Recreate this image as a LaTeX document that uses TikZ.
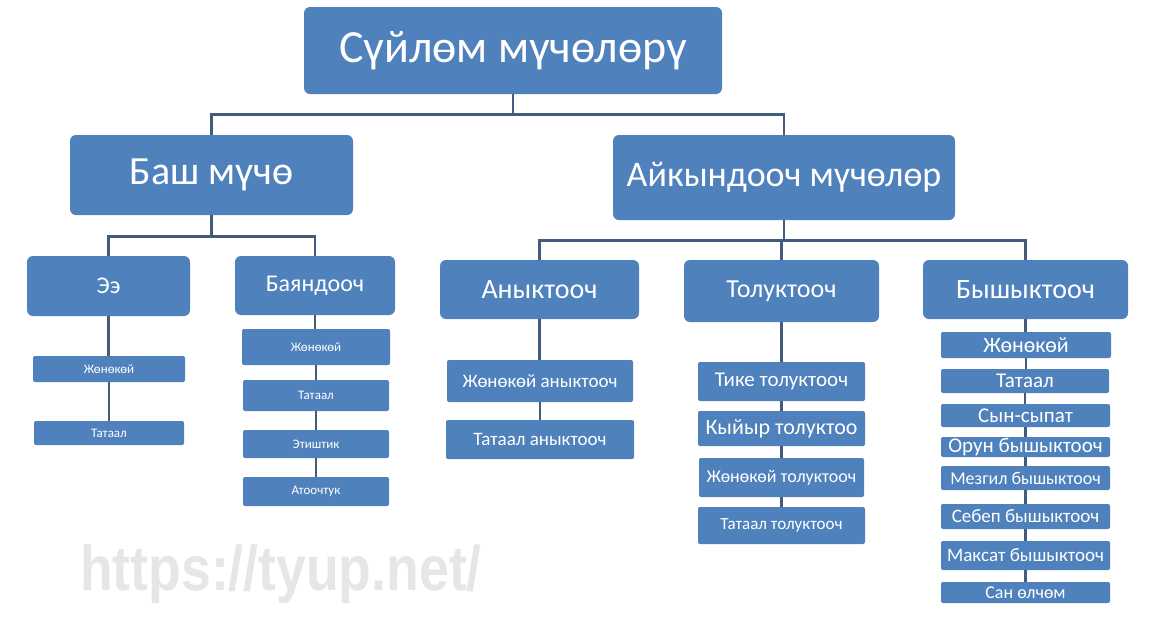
\documentclass[tikz,border=0pt]{standalone}
\usepackage{fontspec}
\setmainfont{Carlito}
\newfontfamily\wmfont{Liberation Sans}
\usepackage{tikz}
\usetikzlibrary{positioning}
\definecolor{big}{RGB}{79,129,189}
\definecolor{wire}{RGB}{66,92,124}
\definecolor{wmgray}{RGB}{230,230,230}

\begin{document}
\begin{tikzpicture}[x=1pt,y=-1pt,box/.style={fill=big,text=white,inner sep=0pt,rounded corners=#1},box/.default=2pt,link/.style={draw=wire,line width=2.6pt}]
  \fill[white] (0,0) rectangle (1154,625); \useasboundingbox (0,0) rectangle (1154,625);
  \node[font=\wmfont\bfseries\fontsize{63}{63}\selectfont,text=wmgray,anchor=base west,xscale=0.85,inner sep=0pt] (wm) at (80,590) {https://tyup.net/};
  % top levels
  \foreach \n/\xa/\ya/\xb/\yb/\s/\t in {top/304/7/722/94/46/Сүйлөм мүчөлөрү,bash/70/135/353/215/40/Баш мүчө,aik/613/135/955/220/36/Айкындооч мүчөлөр,ee/27/256/190/316/24/Ээ,bayan/235/256/395/315/24/Баяндооч,anyk/440/260/639/319/28/Аныктооч,toluk/684/260/879/322/26/Толуктооч,byshyk/923/260/1128/319/28/Бышыктооч}
    \node[box=6pt,minimum width=\xb-\xa,minimum height=\yb-\ya,font=\fontsize{\s}{\s}\selectfont] (\n) at ({(\xa+\xb)/2},{(\ya+\yb)/2}) {\t};
  % leaves
  \foreach \n/\xa/\ya/\xb/\yb/\s/\t in {ee1/33/356/185/382/13/Жөнөкөй,ee2/34/421/184/445/13/Татаал,bay1/242/329/390/365/13/Жөнөкөй,bay2/243/380/389/411/13/Татаал,bay3/243/430/389/458/13/Этиштик,bay4/243/477/389/506/13/Атоочтук,any1/447/360/633/402/19/Жөнөкөй аныктооч,any2/446/420/634/459/19/Татаал аныктооч,tol1/698/362/865/401/21/Тике толуктооч,tol2/698/411/865/446/22/Кыйыр толуктоо,tol3/699/458/864/497/18/Жөнөкөй толуктооч,tol4/698/507/865/544/17/Татаал толуктооч,bys1/941/332/1111/358/22/Жөнөкөй,bys2/941/369/1109/393/21/Татаал,bys3/941/404/1110/427/21/Сын-сыпат,bys4/941/437/1110/457/21/Орун бышыктооч,bys5/941/466/1110/490/18/Мезгил бышыктооч,bys6/941/504/1110/529/19/Себеп бышыктооч,bys7/941/541/1110/570/19/Максат бышыктооч,bys8/941/582/1110/603/18/Сан өлчөм}
    \node[box,minimum width=\xb-\xa,minimum height=\yb-\ya,font=\fontsize{\s}{\s}\selectfont] (\n) at ({(\xa+\xb)/2},{(\ya+\yb)/2}) {\t};
  % buses
  \foreach \c in {bash,aik} \draw[link] (top.south) -- ++(0,20) -| (\c.north);
  \foreach \c in {ee,bayan} \draw[link] (bash.south) -- ++(0,21) -| (\c.north);
  \foreach \c in {anyk,toluk,byshyk} \draw[link] (aik.south) -- ++(0,20) -| (\c.north);
  % chains
  \foreach \a/\b in {ee/ee1,ee1/ee2,bayan/bay1,bay1/bay2,bay2/bay3,bay3/bay4,anyk/any1,any1/any2,toluk/tol1,tol1/tol2,tol2/tol3,tol3/tol4,byshyk/bys1,bys1/bys2,bys2/bys3,bys3/bys4,bys4/bys5,bys5/bys6,bys6/bys7,bys7/bys8}
    \draw[link] (\a.south) -- (\a.south |- \b.north);
\end{tikzpicture}
\end{document}
